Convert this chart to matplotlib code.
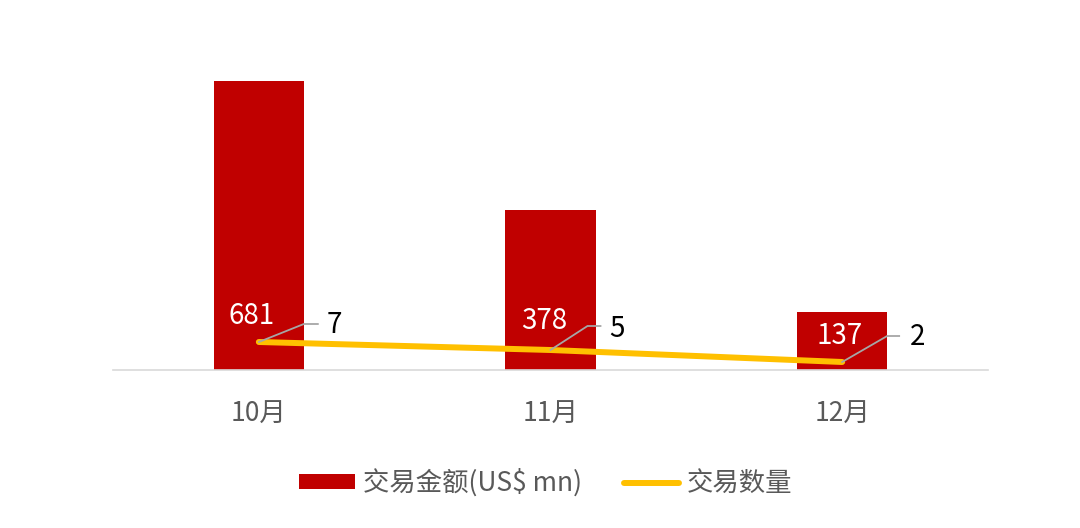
import matplotlib
matplotlib.use("Agg")
import matplotlib.pyplot as plt
from matplotlib.lines import Line2D
import numpy as np

plt.rcParams['font.family'] = ['Noto Sans CJK SC', 'DejaVu Sans']

categories = ['10月', '11月', '12月']
amount = [681, 378, 137]
count = [7, 5, 2]
series_names = ['交易金额(US$ mn)', '交易数量']

RED = '#C00000'
YEL = '#FFC000'
GRAY = '#595959'

fig = plt.figure(figsize=(10.8, 5.28), dpi=100)
ax = fig.add_axes([113/1080, 1-370/528, 875/1080, 340/528])
x = np.arange(len(categories))
bars = ax.bar(x, amount, width=0.31, color=RED, label=series_names[0], zorder=2)
ax.set_xlim(-0.5, len(categories)-0.5)
ax.set_ylim(0, 801)
ax.set_yticks([])
for s in ['top', 'right', 'left']:
    ax.spines[s].set_visible(False)
ax.spines['bottom'].set_color('#D9D9D9')
ax.spines['bottom'].set_linewidth(1.2)
ax.set_xticks(x)
ax.set_xticklabels(categories, fontsize=19, color=GRAY)
ax.tick_params(axis='x', length=0, pad=22)

ax2 = ax.twinx()
ax2.set_ylim(0, 85)
ax2.set_yticks([])
for s in ax2.spines.values():
    s.set_visible(False)
ln, = ax2.plot(x, count, color=YEL, lw=4.3, solid_capstyle='round', label=series_names[1], zorder=3)

# bar value labels (pixel offsets from bar base center)
bar_lab_off = [(-7, 54), (-6, 49), (-3, 34)]
for i, v in enumerate(amount):
    px, py = ax.transData.transform((x[i], 0))
    fig.text((px+bar_lab_off[i][0])/1080, (py+bar_lab_off[i][1])/528, str(v),
             color='white', fontsize=20, ha='center', va='center')

# line labels with leader lines (pixel offsets)
leaders = [((45, 18), 59, (75, 17)), ((37, 24), 50, (66, 21)), ((45, 26), 57, (75, 25))]
for i, v in enumerate(count):
    px, py = ax2.transData.transform((x[i], v))
    (ex, ey), endx, (tx, ty) = leaders[i]
    l = Line2D([px, px+ex, px+endx], [py, py+ey, py+ey], color='#A6A6A6', lw=1.3,
               transform=None, zorder=5)
    fig.add_artist(l)
    fig.text((px+tx)/1080, (py+ty)/528, str(v), color='black', fontsize=20,
             ha='center', va='center')

leg = fig.legend(handles=[bars, ln], labels=series_names, loc='center',
                 bbox_to_anchor=(546/1080, 1-483/528), ncol=2, frameon=False,
                 fontsize=19, handlelength=2.1, handleheight=0.5, handletextpad=0.3,
                 columnspacing=1.6, labelcolor=GRAY)

fig.savefig('out.png', dpi=100)
